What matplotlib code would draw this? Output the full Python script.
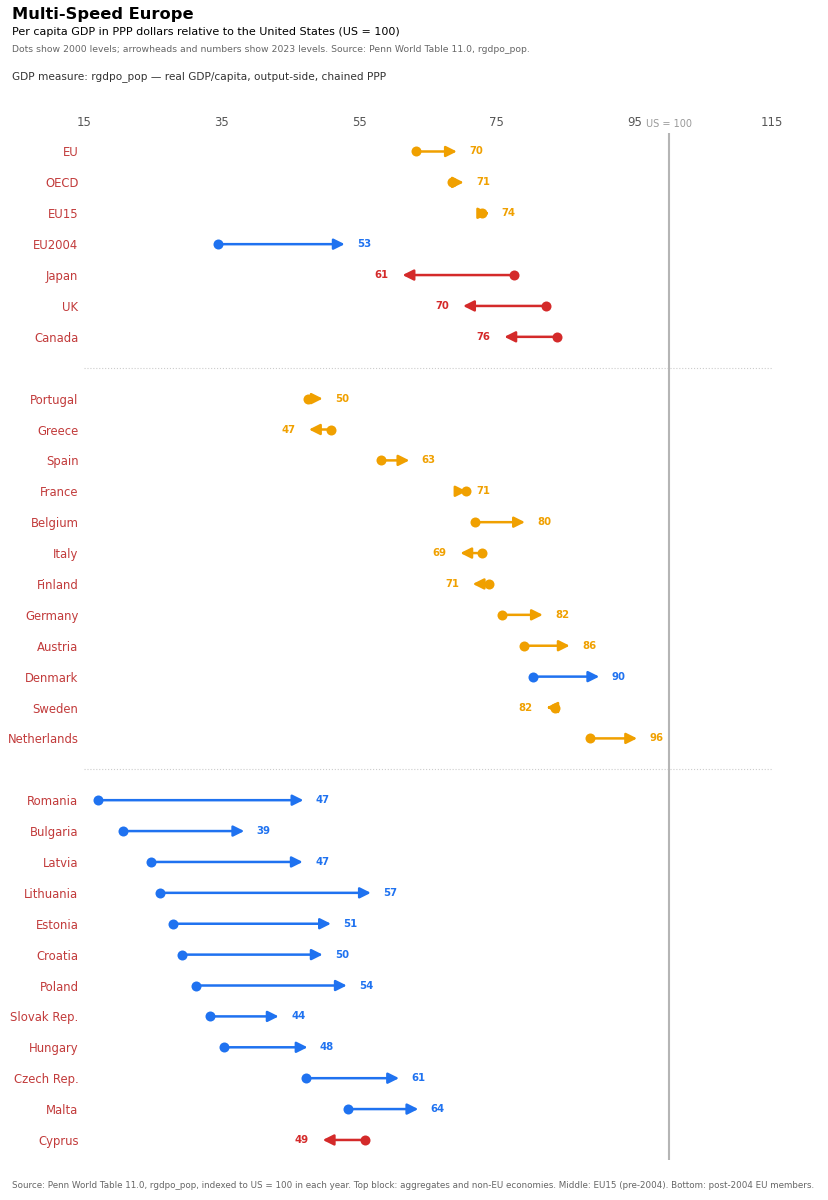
import matplotlib
matplotlib.use("Agg")
import matplotlib.pyplot as plt

# ------------------------------------------------------------
# Data: GDP per capita relative to US (=100), 2000 -> 2023
# ------------------------------------------------------------

top_names = ["EU", "OECD", "EU15", "EU2004", "Japan", "UK", "Canada"]
top_2000 = [63.3, 68.5, 72.8, 34.5, 77.5, 82.1, 83.7]
top_2023 = [69.6, 70.6, 74.3, 53.3, 60.9, 69.7, 75.7]

mid_names = ["Portugal", "Greece", "Spain", "France", "Belgium", "Italy",
             "Finland", "Germany", "Austria", "Denmark", "Sweden", "Netherlands"]
mid_2000 = [47.6, 50.9, 58.2, 70.5, 71.8, 72.8, 73.9, 75.8, 79.0, 80.2, 83.4, 88.5]
mid_2023 = [50.1, 47.3, 62.7, 70.6, 79.5, 69.3, 71.1, 82.1, 86.0, 90.3, 81.8, 95.8]

low_names = ["Romania", "Bulgaria", "Latvia", "Lithuania", "Estonia", "Croatia",
             "Poland", "Slovak Rep.", "Hungary", "Czech Rep.", "Malta", "Cyprus"]
low_2000 = [17.0, 20.6, 24.7, 26.0, 27.9, 29.3, 31.3, 33.3, 35.4, 47.2, 53.4, 55.9]
low_2023 = [47.3, 38.7, 47.2, 57.1, 51.3, 50.1, 53.6, 43.7, 47.9, 61.2, 64.0, 49.3]

x_ticks = [15, 35, 55, 75, 95, 115]

# ------------------------------------------------------------
# Styles
# ------------------------------------------------------------

ORANGE = "#f0a000"
BLUE = "#1f72f0"
RED = "#d42a2a"
NAME_COLOR = "#c23b3b"


def pick_color(start, end):
    change = end - start
    if change >= 10:
        return BLUE
    if change <= -5:
        return RED
    return ORANGE


# ------------------------------------------------------------
# Row layout (blank row between blocks)
# ------------------------------------------------------------

names = []
starts = []
ends = []
rows = []
separators = []

row = 0
for block_names, block_s, block_e in [
    (top_names, top_2000, top_2023),
    (mid_names, mid_2000, mid_2023),
    (low_names, low_2000, low_2023),
]:
    for n, s, e in zip(block_names, block_s, block_e):
        names.append(n)
        starts.append(s)
        ends.append(e)
        rows.append(row)
        row += 1
    separators.append(row)
    row += 1
separators = separators[:-1]

# ------------------------------------------------------------
# Figure
# ------------------------------------------------------------

fig = plt.figure(figsize=(8.29, 12), dpi=100)
ax = fig.add_axes([0.1013, 0.0333, 0.8299, 0.8559])

for n, s, e, y in zip(names, starts, ends, rows):
    c = pick_color(s, e)
    ax.annotate(
        "",
        xy=(e, y),
        xytext=(s, y),
        arrowprops=dict(arrowstyle="-|>", color=c, lw=1.8,
                        mutation_scale=16),
        zorder=2,
    )
    ax.scatter([s], [y], s=52, color=c, zorder=3, linewidths=0)
    if e >= s:
        ax.text(e + 1.4, y, f"{e:.0f}", color=c, fontsize=7.3,
                fontweight="bold", ha="left", va="center")
    else:
        ax.text(e - 1.6, y, f"{e:.0f}", color=c, fontsize=7.3,
                fontweight="bold", ha="right", va="center")

for sy in separators:
    ax.axhline(sy, color="#cccccc", lw=0.8, ls=":", zorder=0)

ax.axvline(100, color="#b5b5b5", lw=1.5, zorder=1)
ax.annotate("US = 100", xy=(100, 1), xycoords=("data", "axes fraction"),
            xytext=(0, 3), textcoords="offset points",
            ha="center", va="bottom", fontsize=7.0, color="#999999")

ax.set_xlim(15, 115)
ax.set_ylim(32.65, -0.6)

ax.xaxis.tick_top()
ax.set_xticks(x_ticks)
ax.set_xticklabels([str(t) for t in x_ticks])
ax.tick_params(axis="x", length=0, labelsize=8.4, labelcolor="#555555", pad=3)

ax.set_yticks(rows)
ax.set_yticklabels(names)
ax.tick_params(axis="y", length=0, labelsize=8.4, labelcolor=NAME_COLOR, pad=4)

for sp in ax.spines.values():
    sp.set_visible(False)

# ------------------------------------------------------------
# Titles and notes
# ------------------------------------------------------------

fig.text(12 / 829, 1 - 15 / 1200, "Multi-Speed Europe", fontsize=11.7,
         fontweight="bold", ha="left", va="center")
fig.text(12 / 829, 1 - 32 / 1200,
         "Per capita GDP in PPP dollars relative to the United States (US = 100)",
         fontsize=8.0, ha="left", va="center")
fig.text(12 / 829, 1 - 49 / 1200,
         "Dots show 2000 levels; arrowheads and numbers show 2023 levels. "
         "Source: Penn World Table 11.0, rgdpo_pop.",
         fontsize=6.7, color="#666666", ha="left", va="center")
fig.text(12 / 829, 1 - 77 / 1200,
         "GDP measure: rgdpo_pop \u2014 real GDP/capita, output-side, chained PPP",
         fontsize=7.6, color="#333333", ha="left", va="center")
fig.text(12 / 829, 1 - 1185 / 1200,
         "Source: Penn World Table 11.0, rgdpo_pop, indexed to US = 100 in each year. "
         "Top block: aggregates and non-EU economies. Middle: EU15 (pre-2004). "
         "Bottom: post-2004 EU members.",
         fontsize=6.3, color="#666666", ha="left", va="center")

fig.savefig("out.png", dpi=100)
